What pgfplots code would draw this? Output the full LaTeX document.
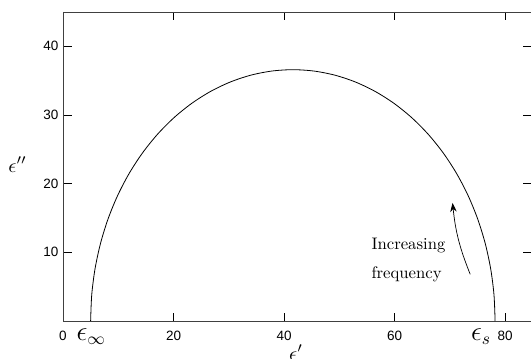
\documentclass[border=0pt]{standalone}
\usepackage{graphicx}
\usepackage{pgfplots}
\pgfplotsset{compat=1.18}
\usetikzlibrary{arrows.meta}
\usepackage{fontspec}
\newfontfamily\helv{Liberation Sans}
\begin{document}
\begin{tikzpicture}[x=1pt,y=1pt]
\begin{axis}[
  name=ax,
  scale only axis,
  width=468pt, height=309pt,
  xmin=0, xmax=84.7, ymin=0, ymax=45,
  xtick={0,20,40,60,80},
  ytick={10,20,30,40},
  tick align=inside,
  major tick length=8.5pt,
  xtick pos=both, ytick pos=both,
  xticklabel pos=bottom, yticklabel pos=left,
  tick style={black, line width=0.6pt},
  axis line style={line width=0.8pt, black!75},
  ticklabel style={font=\helv\fontsize{13.5}{16}\selectfont},
  /pgf/number format/assume math mode=true,
  xticklabel style={anchor=base, yshift=-19pt},
  yticklabel style={xshift=-1pt},
  extra x ticks={5.1,75.65},
  extra x tick labels={\scalebox{1.9}{$\epsilon_\infty$},\scalebox{1.9}{$\epsilon_s$}},
  extra x tick style={major tick length=0pt},
  clip=false,
]
\addplot[black, line width=0.8pt, smooth] coordinates {
(78.200,0) (77.999,3.826) (77.400,7.610) (76.409,11.310) (75.036,14.887)
(73.297,18.300) (71.210,21.513) (68.799,24.490) (66.090,27.199) (63.113,29.610)
(59.900,31.697) (56.487,33.436) (52.910,34.809) (49.210,35.800) (45.426,36.399)
(41.600,36.600) (37.774,36.399) (33.990,35.800) (30.290,34.809) (26.713,33.436)
(23.300,31.697) (20.087,29.610) (17.110,27.199) (14.401,24.490) (11.990,21.513)
(9.903,18.300) (8.164,14.887) (6.791,11.310) (5.800,7.610) (5.201,3.826) (5.000,0)
};
\draw[-{Stealth[length=9pt,width=6.5pt]}, line width=0.7pt] (axis cs:73.7,6.8) to[bend left=8] (axis cs:70.5,17.2);
\node[anchor=base west, inner sep=0pt] at (axis cs:55.8,10.34) {\scalebox{1.67}{\begin{tabular}[t]{@{}l@{}}Increasing\\[4.8pt]frequency\end{tabular}}};
\node[anchor=base east, inner sep=0pt, xshift=-36pt] at (axis description cs:0,0.482) {\scalebox{2}{$\epsilon''$}};
\node[anchor=north, inner sep=0pt, yshift=-24pt] at (axis description cs:0.498,0) {\scalebox{2}{$\epsilon'$}};
\end{axis}
\pgfresetboundingbox
\useasboundingbox ([xshift=-63pt,yshift=-37pt]ax.south west) rectangle ([yshift=12pt]ax.north east);
\end{tikzpicture}
\end{document}
